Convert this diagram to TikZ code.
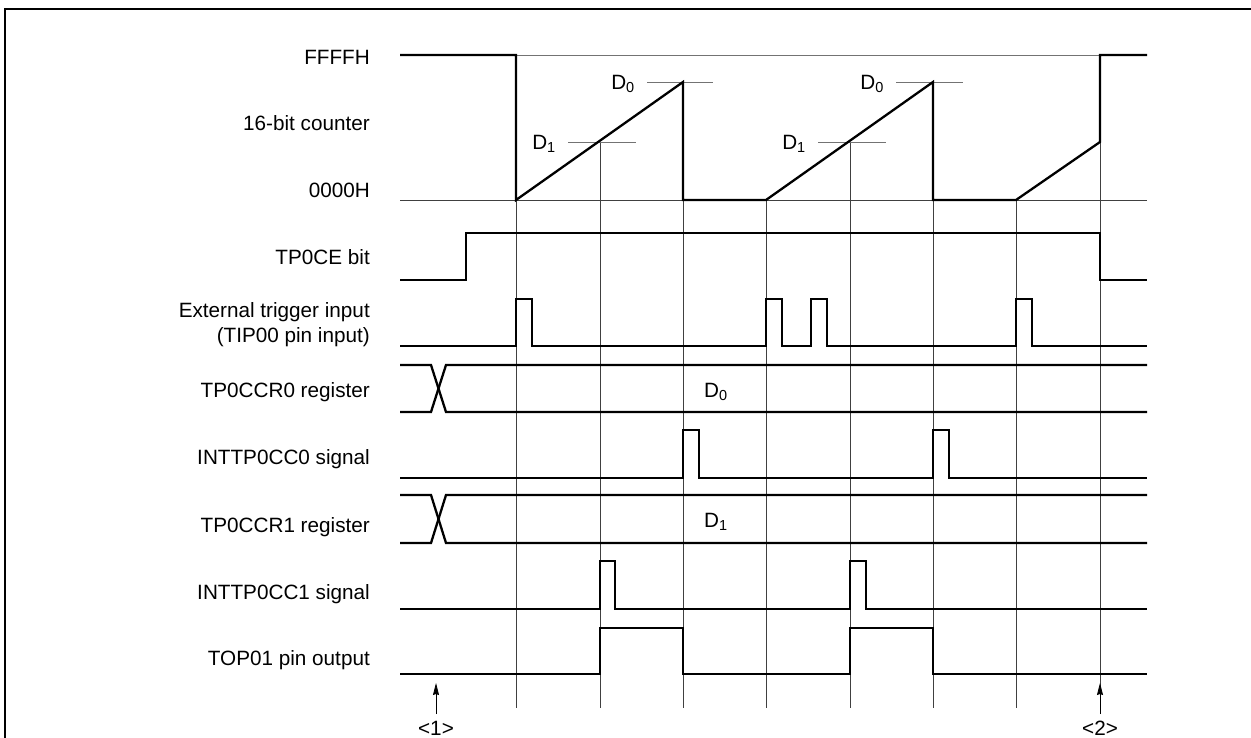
\documentclass[tikz,border=0pt]{standalone}
\usepackage{fontspec}
\setmainfont{Liberation Sans}
\usetikzlibrary{arrows.meta}

\tikzset{
  sig/.style={line width=2.3pt},
  gridln/.style={line width=0.8pt,black!75},
  lvl/.style={line width=0.8pt,black!55},
  lbl/.style={anchor=base east,inner sep=0pt},
  dlbl/.style={anchor=base west,inner sep=0pt},
  evtarrow/.style={line width=0.8pt,-{Stealth[length=12pt,width=6pt,inset=1pt]}},
}

\begin{document}
\begin{tikzpicture}[x=1pt,y=-1pt,font=\fontsize{20.7}{25}\selectfont]
  \useasboundingbox (0,0) rectangle (1251,738);
  \draw[line width=2.5pt] (5,760)--(5,9)--(1270,9);
  % signal names
  \node[lbl] (ffff) at (370,64.5) {FFFFH};
  \node[lbl] (cnt) at (370,130.5) {16-bit counter};
  \node[lbl] (zero) at (370,197.5) {0000H};
  \node[lbl] (ce) at (370,264.5) {TP0CE bit};
  \node[lbl] (trg) at (370,317.5) {External trigger input};
  \node[lbl] (tip) at (370,342.5) {(TIP00 pin input)};
  \node[lbl] (ccr0) at (370,397.5) {TP0CCR0 register};
  \node[lbl] (int0) at (370,464.5) {INTTP0CC0 signal};
  \node[lbl] (ccr1) at (370,532.5) {TP0CCR1 register};
  \node[lbl] (int1) at (370,599.5) {INTTP0CC1 signal};
  \node[lbl] (top) at (370,665.5) {TOP01 pin output};
  % timing grid
  \foreach \x/\y in {516/200,600/142,683/200,766/200,850/142,933/200,1016/200,1100/142}
    \draw[gridln] (\x,\y)--(\x,708);
  % 16-bit counter
  \draw[lvl] (400,55)--(1147,55); \draw[gridln] (400,200)--(1147,200);
  \draw[lvl] (647,82)--(713,82); \draw[lvl] (896,82)--(963,82);
  \draw[lvl] (568,142)--(636,142); \draw[lvl] (818,142)--(886,142);
  \node[anchor=base east,inner sep=0pt] (d0a) at (635,89.4) {D\textsubscript{0}};
  \node[anchor=base east,inner sep=0pt] (d0b) at (884,89.4) {D\textsubscript{0}};
  \node[anchor=base east,inner sep=0pt] (d1a) at (556,149.4) {D\textsubscript{1}};
  \node[anchor=base east,inner sep=0pt] (d1b) at (806,149.4) {D\textsubscript{1}};
  \draw[sig] (400,55)--(516,55)--(516,200)--(683,82)--(683,200)--(766,200)--(933,82)--(933,200)
    --(1016,200)--(1100,142)--(1100,55)--(1147,55);
  % TP0CE bit
  \draw[sig] (400,280)--(466,280)--(466,233)--(1100,233)--(1100,280)--(1147,280);
  % external trigger
  \draw[sig] (400,346)--(516,346)--(516,299)--(532,299)--(532,346)--(766,346)--(766,299)--(782,299)
    --(782,346)--(811,346)--(811,299)--(827,299)--(827,346)--(1016,346)--(1016,299)--(1032,299)
    --(1032,346)--(1147,346);
  % TP0CCR0
  \draw[sig] (400,365)--(431,365)--(446,412)--(1147,412);
  \draw[sig] (400,412)--(431,412)--(446,365)--(1147,365);
  \node[dlbl] (d0r) at (704,397.4) {D\textsubscript{0}};
  % INTTP0CC0
  \draw[sig] (400,478)--(683,478)--(683,430)--(699,430)--(699,478)--(933,478)--(933,430)--(949,430)
    --(949,478)--(1147,478);
  % TP0CCR1
  \draw[sig] (400,495)--(431,495)--(446,543)--(1147,543);
  \draw[sig] (400,543)--(431,543)--(446,495)--(1147,495);
  \node[dlbl] (d1r) at (704,527.4) {D\textsubscript{1}};
  % INTTP0CC1
  \draw[sig] (400,609)--(600,609)--(600,561)--(615,561)--(615,609)--(850,609)--(850,561)--(866,561)
    --(866,609)--(1147,609);
  % TOP01
  \draw[sig] (400,674)--(600,674)--(600,628)--(683,628)--(683,674)--(850,674)--(850,628)--(933,628)
    --(933,674)--(1147,674);
  % <1> and <2>
  \coordinate (s1) at (436,714); \coordinate (t1) at (436,683);
  \coordinate (s2) at (1100,714); \coordinate (t2) at (1100,683);
  \draw[evtarrow] (s1)--(t1); \draw[evtarrow] (s2)--(t2);
  \node[anchor=base,inner sep=0pt] (p1) at (436,735) {<1>};
  \node[anchor=base,inner sep=0pt] (p2) at (1100,735) {<2>};
\end{tikzpicture}
\end{document}
